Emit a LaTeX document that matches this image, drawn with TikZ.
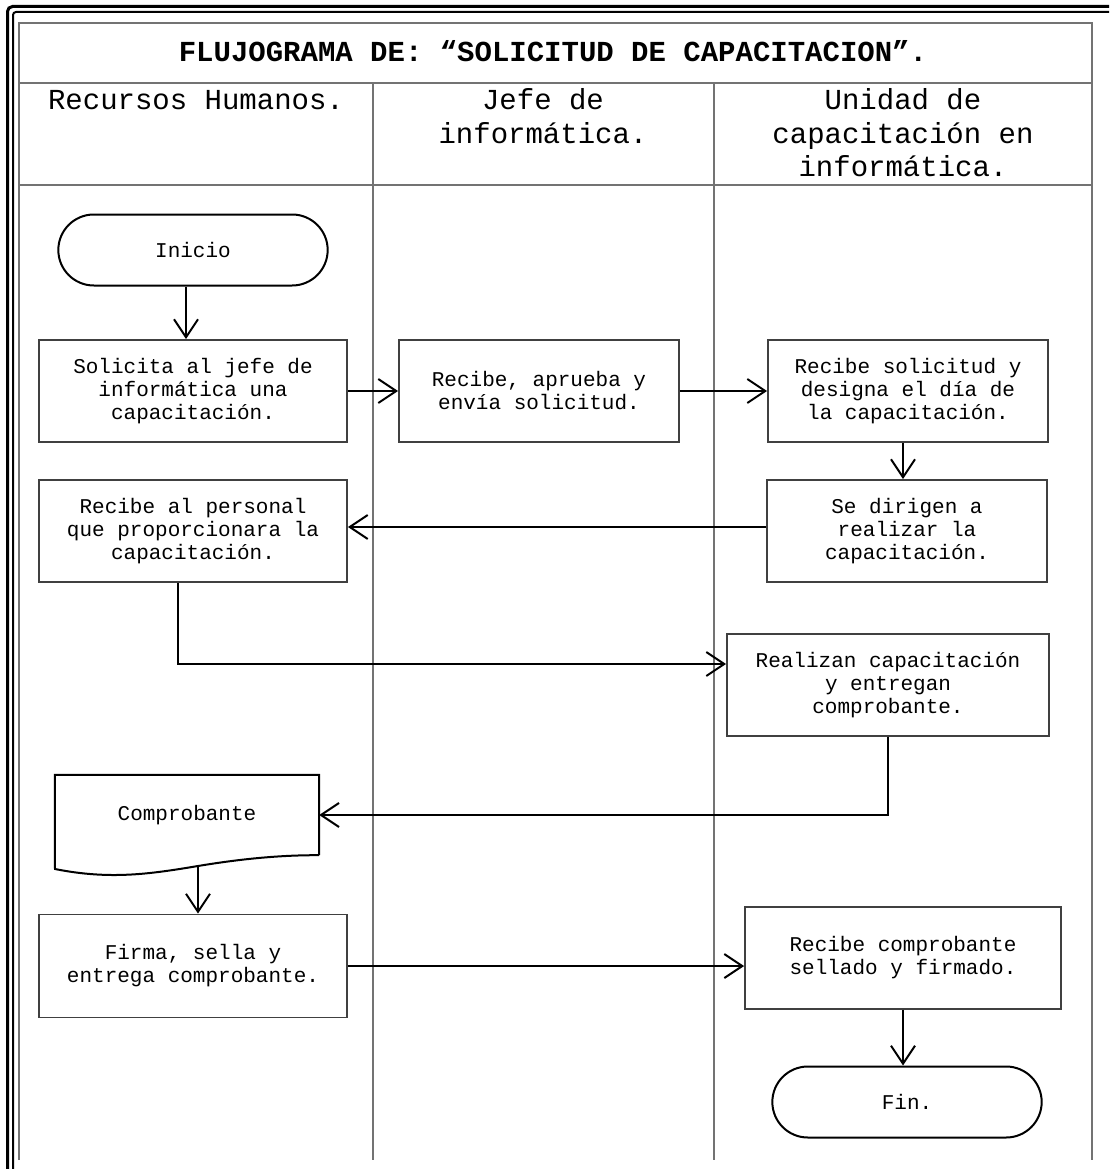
\documentclass[tikz,border=0pt]{standalone}
\usepackage{fontspec}
\setmainfont{Liberation Mono}
\usetikzlibrary{arrows.meta,shapes.misc}

\tikzset{
  proceso/.style={draw=black!75, line width=1.8pt, minimum width=308pt, minimum height=102pt,
    align=center, inner sep=0pt, font=\fontsize{21}{23}\selectfont},
  terminal/.style={draw, rounded rectangle, line width=2pt, minimum width=276pt,
    minimum height=71pt, font=\fontsize{21}{23}\selectfont},
  flecha/.style={line width=2pt, -{Straight Barb[length=18pt,width=24pt]}},
  carril/.style={black!55, line width=1.3pt},
  encabezado/.style={anchor=base, align=center, font=\fontsize{29}{33.5}\selectfont}
}

\begin{document}
\begin{tikzpicture}[x=1pt, y=-1pt]
  \useasboundingbox (0,0) rectangle (1109,1169);
  % Marco doble
  \draw[line width=3pt, rounded corners=5pt] (7.5,1169) -- (7.5,6.5) -- (1109,6.5);
  \draw[line width=2pt, rounded corners=3pt] (13,1169) -- (13,12) -- (1109,12);
  % Tabla y carriles
  \draw[carril] (19,1160) -- (19,23) -- (1092,23) -- (1092,1160);
  \draw[carril] (19,83) -- (1092,83);
  \draw[carril] (19,185) -- (1092,185);
  \foreach \x in {373,714} \draw[carril] (\x,83) -- (\x,1160);
  % Titulo y encabezados (base = ultima linea)
  \node[anchor=base, font=\fontsize{29}{33}\selectfont\bfseries] (titulo) at (553,62)
    {FLUJOGRAMA DE: “SOLICITUD DE CAPACITACION”.};
  \node[encabezado] (rrhh) at (196,110) {Recursos Humanos.};
  \node[encabezado] (jefe) at (543,143.5) {Jefe de\\informática.};
  \node[encabezado] (unidad) at (903,177) {Unidad de\\capacitación en\\informática.};
  % Pasos
  \node[terminal] (inicio) at (193,250) {Inicio};
  \node[proceso] (solicita) at (193,391) {Solicita al jefe de\\informática una\\capacitación.};
  \node[proceso, minimum width=280pt] (aprueba) at (539,391) {Recibe, aprueba y\\envía solicitud.};
  \node[proceso, minimum width=280pt] (designa) at (908,391) {Recibe solicitud y\\designa el día de\\la capacitación.};
  \node[proceso, minimum width=280pt] (dirigen) at (907,531) {Se dirigen a\\realizar la\\capacitación.};
  \node[proceso] (personal) at (193,531) {Recibe al personal\\que proporcionara la\\capacitación.};
  \node[proceso, minimum width=322pt] (realizan) at (888,685) {Realizan capacitación\\y entregan\\comprobante.};
  \node[minimum width=264pt, minimum height=80pt, inner sep=0pt,
    font=\fontsize{21}{23}\selectfont] (comprobante) at (187,815) {Comprobante};
  \node[proceso, minimum height=103pt] (firma) at (193,966) {Firma, sella y\\entrega comprobante.};
  \node[proceso, minimum width=316pt] (recibecomp) at (903,958) {Recibe comprobante\\sellado y firmado.};
  \node[terminal] (fin) at (907,1102) {Fin.};
  % Documento
  \coordinate (compbase) at (198,866);
  \draw[line width=2pt] (comprobante.south east) -- (comprobante.north east)
    -- (comprobante.north west) -- (55,869)
    .. controls (110,880) and (150,874) .. (compbase)
    .. controls (240,859) and (280,855) .. (comprobante.south east);
  % Conectores
  \draw[flecha] ([xshift=-7pt]inicio.south) -- ([xshift=-7pt]solicita.north);
  \draw[flecha] (solicita.east) -- (aprueba.west);
  \draw[flecha] (aprueba.east) -- (designa.west);
  \draw[flecha] ([xshift=-5pt]designa.south) -- ([xshift=-4pt]dirigen.north);
  \draw[flecha] ([yshift=4pt]dirigen.west) -- ([yshift=4pt]personal.east);
  \draw[flecha] ([xshift=-15pt]personal.south) |- ([yshift=21pt]realizan.west);
  \draw[flecha] (realizan.south) |- (comprobante.east);
  \draw[flecha] (compbase) -- (compbase |- firma.north);
  \draw[flecha] (firma.east) -- (firma.east -| recibecomp.west);
  \draw[flecha] (recibecomp.south) -- (recibecomp.south |- fin.north);
\end{tikzpicture}
\end{document}
